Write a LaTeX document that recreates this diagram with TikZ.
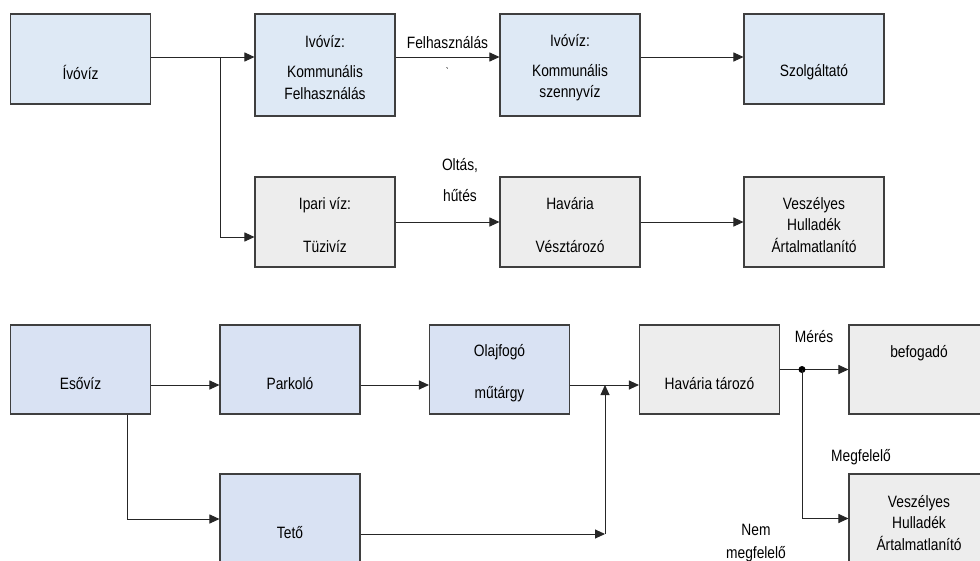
\documentclass[tikz,border=0pt]{standalone}
\usepackage{fontspec}
\setmainfont[FakeStretch=0.84]{Liberation Sans}
\usepackage{tikz}
\usetikzlibrary{arrows.meta}

\definecolor{boxblue}{HTML}{DEE9F5}
\definecolor{boxblueb}{HTML}{D9E2F3}
\definecolor{boxgrey}{HTML}{EDEDED}
\definecolor{edge}{HTML}{3F3F3F}

\tikzset{
  box/.style={draw=edge, line width=0.9pt, inner sep=0pt,
    minimum width=4.2cm, minimum height=2.7cm},
  bluebox/.style={box, fill=boxblue},
  blueboxb/.style={box, fill=boxblueb},
  greybox/.style={box, fill=boxgrey},
  txt/.style={align=center, inner sep=0pt, font=\fontsize{14}{18}\selectfont},
  arr/.style={draw=black!85, line width=0.8pt, -{Triangle[length=0.3cm, width=0.27cm]}},
  line/.style={draw=black!85, line width=0.8pt}
}

\begin{document}
\begin{tikzpicture}[x=0.03cm, y=-0.03cm]
		\useasboundingbox (0,0) rectangle (980,561);
		\fill[white] (0,0) rectangle (980,561);
		\clip (0,0) rectangle (980,561);

		% ivoviz
		\node[bluebox] (ivo) at (80.5,59) {};
		\node[bluebox, minimum height=3.06cm] (komf) at (325,65) {};
		\node[bluebox, minimum height=3.06cm] (komsz) at (570,65) {};
		\node[bluebox] (szolg) at (814,59) {};
		\node[greybox] (ipari) at (325,222) {};
		\node[greybox] (vesz) at (570,222) {};
		\node[greybox] (artal) at (814,222) {};

		\node[txt] at (80.5,72) {Ívóvíz};
		\node[txt] at (325,67.5) {Ivóvíz:\\[0.27cm]Kommunális\\Felhasználás};
		\node[txt] at (570,67.5) {Ivóvíz:\\[0.27cm]Kommunális\\szennyvíz};
		\node[txt] at (814,72) {Szolgáltató};
		\node[txt] at (325,225) {Ipari víz:\\[0.63cm]Tüzivíz};
		\node[txt] at (570,225) {Havária\\[0.63cm]Vésztározó};
		\node[txt] at (814,225) {Veszélyes\\Hulladék\\Ártalmatlanító};

		\coordinate (br1) at (220,57);
		\draw[arr] (ivo.east |- br1) -- (komf.west |- br1);
		\draw[arr] (br1) |- (ipari.west |- 0,237);
		\draw[arr] (komf.east |- br1) -- node[txt, above=0.24cm]{Felhasználás}
			node[txt, below=0.3cm, font=\small]{\textasciigrave} (komsz.west |- br1);
		\draw[arr] (komsz.east |- br1) -- (szolg.west |- br1);
		\draw[arr] (ipari.east) -- (vesz.west);
		\node[txt] at (460,180) {Oltás,\\[0.3cm]hűtés};
		\draw[arr] (vesz.east) -- (artal.west);

		% esoviz
		\node[blueboxb, minimum height=2.67cm] (eso) at (80.5,369.5) {};
		\node[blueboxb, minimum height=2.67cm] (park) at (290,369.5) {};
		\node[blueboxb, minimum height=2.67cm] (olaj) at (499.5,369.5) {};
		\node[greybox, minimum height=2.67cm] (havt) at (709.5,369.5) {};
		\node[greybox, minimum height=2.67cm] (befog) at (919,369.5) {};
		\node[blueboxb, minimum height=2.67cm] (teto) at (290,518.5) {};
		\node[greybox, minimum height=2.67cm] (artal2) at (919,518.5) {};

		\node[txt] at (80.5,384) {Esővíz};
		\node[txt] at (290,384) {Parkoló};
		\node[txt] at (499.5,373) {Olajfogó\\[0.63cm]műtárgy};
		\node[txt] at (709.5,384) {Havária tározó};
		\node[txt] at (919,353) {befogadó};
		\node[txt] at (290,533) {Tető};
		\node[txt] at (919,523) {Veszélyes\\Hulladék\\Ártalmatlanító};

		\coordinate (j1) at (605,385);
		\coordinate (j2) at (605,534);
		\coordinate (br2) at (127,519);
		\coordinate (dot) at (802,369.5);
		\coordinate (br3) at (802,518.5);
		\draw[arr] (eso.east |- j1) -- (park.west |- j1);
		\draw[arr] (park.east |- j1) -- (olaj.west |- j1);
		\draw[arr] (olaj.east |- j1) -- (havt.west |- j1);
		\draw[line] (eso.south -| br2) -- (br2);
		\draw[arr] (br2) -- (teto.west |- br2);
		\draw[arr] (teto.east |- j2) -- (j2);
		\draw[arr] (j2) -- (j1);
		\draw[arr] (havt.east) -- (befog.west);
		\fill (dot) circle (3.5);
		\draw[line] (dot) -- (br3);
		\draw[arr] (br3) -- (artal2.west);
		\node[txt] at (814,337) {Mérés};
		\node[txt] at (861,457) {Megfelelő};
		\node[txt] at (756,543) {Nem\\[0.06cm]megfelelő};
\end{tikzpicture}
\end{document}
